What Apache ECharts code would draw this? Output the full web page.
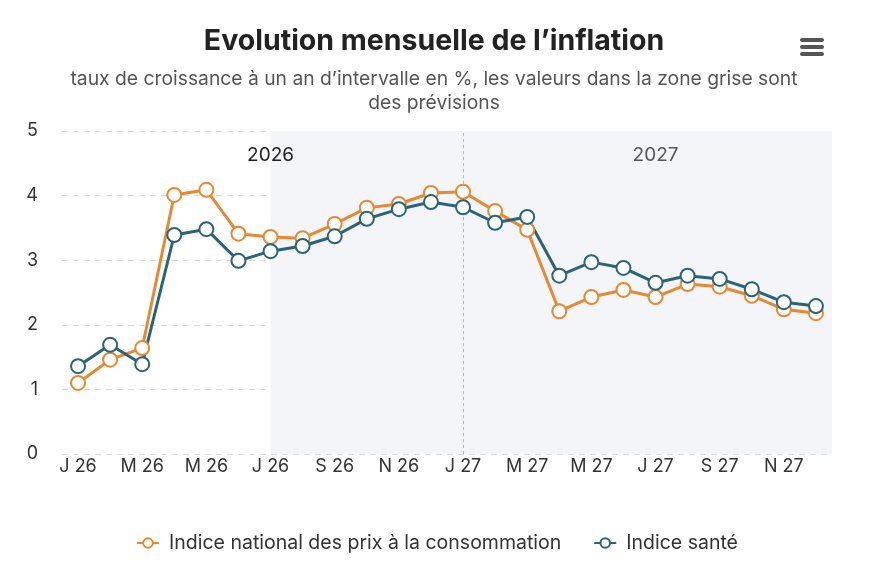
<!DOCTYPE html>
<html>
<head>
<meta charset="utf-8">
<script src="https://cdn.jsdelivr.net/npm/echarts@6/dist/echarts.min.js"></script>
<style>
  html, body { margin: 0; padding: 0; background: #fff; }
  #chart { width: 874px; height: 562px; }
</style>
</head>
<body>
<div id="chart"></div>
<script>
// mois (axe des x), un libellé sur deux est affiché
const months = [
  'J 26', 'F 26', 'M 26', 'A 26', 'M 26', 'J 26', 'J 26', 'A 26', 'S 26', 'O 26', 'N 26', 'D 26',
  'J 27', 'F 27', 'M 27', 'A 27', 'M 27', 'J 27', 'J 27', 'A 27', 'S 27', 'O 27', 'N 27', 'D 27'
];

const ipc = [
  1.10, 1.46, 1.64, 4.01, 4.09, 3.41, 3.36, 3.34, 3.56, 3.81, 3.87, 4.04,
  4.06, 3.76, 3.47, 2.21, 2.43, 2.54, 2.43, 2.63, 2.59, 2.45, 2.24, 2.18
];

const sante = [
  1.36, 1.69, 1.39, 3.39, 3.48, 2.99, 3.14, 3.22, 3.37, 3.64, 3.79, 3.90,
  3.82, 3.58, 3.67, 2.76, 2.97, 2.88, 2.65, 2.76, 2.71, 2.55, 2.35, 2.29
];

const seriesNames = ['Indice national des prix à la consommation', 'Indice santé'];
const yearLabels = ['2026', '2027'];
const forecastStart = 6;   // juillet 2026
const yearBreak = 12;      // janvier 2027

const FONT = 'Inter, "Noto Sans", sans-serif';
const ORANGE = '#e8892f';
const BLUE = '#2b6479';

const chart = echarts.init(document.getElementById('chart'));

const lineSeries = (name, data, color) => ({
  name: name,
  type: 'line',
  data: data,
  symbol: 'circle',
  symbolSize: 14,
  z: 5,
  lineStyle: { color: color, width: 3 },
  itemStyle: { color: '#fff', borderColor: color, borderWidth: 2 },
  emphasis: { disabled: true }
});

chart.setOption({
  animation: false,
  textStyle: { fontFamily: FONT },
  title: {
    text: 'Evolution mensuelle de l\u2019inflation',
    subtext: 'taux de croissance à un an d\u2019intervalle en %, les valeurs dans la zone grise sont\ndes prévisions',
    left: 429,
    top: 22,
    textAlign: 'center',
    itemGap: 11,
    textStyle: { fontSize: 28.5, fontWeight: 'bold', color: '#222', fontFamily: FONT },
    subtextStyle: { fontSize: 19.3, color: '#555', lineHeight: 24, fontFamily: FONT }
  },
  legend: {
    bottom: 4,
    left: 'center',
    itemWidth: 22,
    itemHeight: 12,
    itemGap: 32,
    textStyle: { fontSize: 19.5, color: '#333', fontFamily: FONT, padding: [0, 0, 0, 5] },
    data: seriesNames
  },
  grid: { left: 62, right: 42, top: 131, bottom: 108 },
  xAxis: [
    {
      type: 'category',
      data: months,
      boundaryGap: true,
      axisLine: { show: false },
      axisTick: { show: false },
      axisLabel: { interval: 1, color: '#333', fontSize: 18, margin: 4 }
    },
    {
      type: 'value',
      min: -0.5,
      max: 23.5,
      show: false
    }
  ],
  yAxis: {
    type: 'value',
    min: 0,
    max: 5,
    interval: 1,
    axisLine: { show: false },
    axisTick: { show: false },
    axisLabel: { color: '#333', fontSize: 18, margin: 24 },
    splitLine: { lineStyle: { color: '#dcdcdc', type: [6, 5] } }
  },
  series: [
    {
      // zone grise des prévisions + libellés des années
      type: 'line',
      xAxisIndex: 1,
      data: [],
      silent: true,
      z: 1,
      markArea: {
        silent: true,
        itemStyle: { color: '#f3f5f9' },
        data: [[{ xAxis: forecastStart }, { xAxis: 23.5 }]]
      },
      markPoint: {
        symbolSize: 0,
        silent: true,
        label: { show: true, fontSize: 19, offset: [0, 24], fontFamily: FONT },
        data: [
          { coord: [6, 5], value: yearLabels[0], label: { color: '#222' } },
          { coord: [18, 5], value: yearLabels[1], label: { color: '#555' } }
        ]
      }
    },
    Object.assign(lineSeries(seriesNames[0], ipc, ORANGE), {
      markLine: {
        silent: true,
        symbol: 'none',
        label: { show: false },
        lineStyle: { color: '#b8b8b8', type: [3, 3], width: 1 },
        data: [{ xAxis: yearBreak }]
      }
    }),
    lineSeries(seriesNames[1], sante, BLUE)
  ],
  graphic: [
    {
      type: 'group',
      right: 50,
      top: 38,
      children: [0, 7, 14].map(y => ({
        type: 'rect',
        shape: { x: 0, y: y, width: 24, height: 4, r: 2 },
        style: { fill: '#555' }
      }))
    }
  ]
});
</script>
</body>
</html>
